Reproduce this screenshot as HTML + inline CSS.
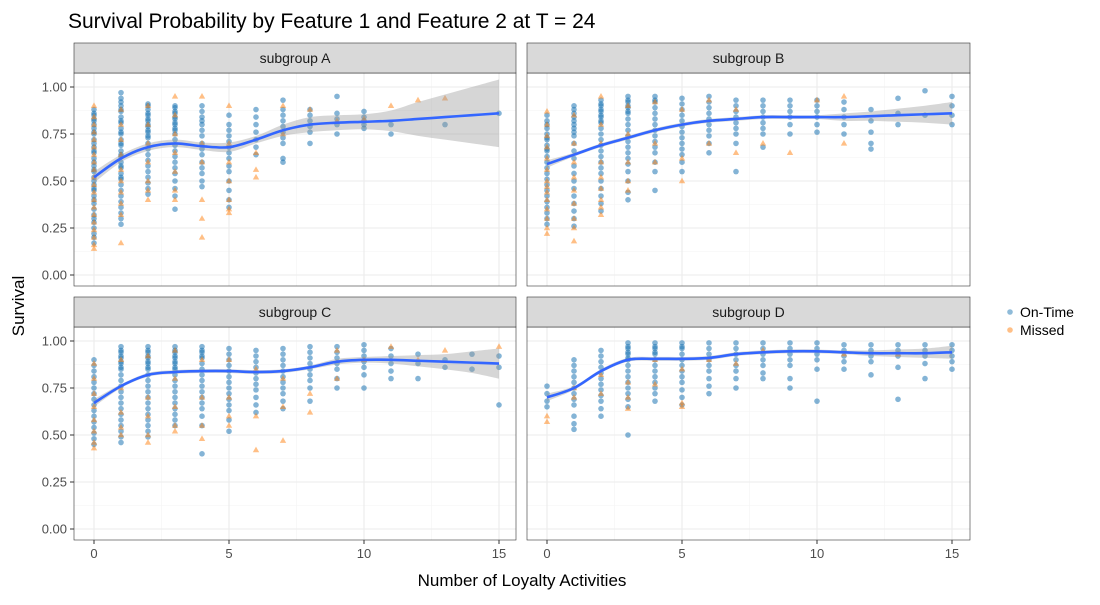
<!DOCTYPE html>
<html><head><meta charset="utf-8"><style>
body{margin:0;background:#fff}
svg{font-family:"Liberation Sans",Arial,sans-serif}
</style></head><body>
<svg id="c" width="1100" height="600" viewBox="0 0 1100 600" xmlns="http://www.w3.org/2000/svg"></svg>
<script>
const panelNames=["subgroup A","subgroup B","subgroup C","subgroup D"];
const xTicks=[0,5,10,15];
const yTicks=[0,0.25,0.5,0.75,1];
const yTickLabels=["0.00","0.25","0.50","0.75","1.00"];
const fitA=[.52,.62,.68,.70,.685,.68,.72,.77,.80,.81,.815,.82,.83,.84,.85,.86];
const loA=[.49,.60,.66,.68,.665,.655,.70,.74,.76,.77,.775,.765,.74,.72,.70,.68];
const hiA=[.55,.64,.70,.72,.705,.705,.74,.80,.84,.85,.855,.875,.92,.96,1.0,1.04];
const fitB=[.59,.64,.69,.73,.77,.80,.82,.83,.84,.84,.84,.84,.845,.85,.855,.86];
const loB=[.57,.63,.68,.72,.76,.79,.81,.82,.83,.83,.83,.82,.82,.815,.81,.80];
const hiB=[.61,.65,.70,.74,.78,.81,.83,.84,.85,.85,.85,.86,.87,.885,.90,.92];
const fitC=[.67,.76,.82,.835,.84,.84,.835,.84,.86,.89,.90,.90,.895,.89,.885,.88];
const loC=[.65,.75,.81,.825,.83,.83,.825,.83,.85,.875,.885,.88,.865,.85,.83,.80];
const hiC=[.69,.77,.83,.845,.85,.85,.845,.85,.87,.905,.915,.92,.925,.93,.945,.96];
const fitD=[.70,.75,.84,.90,.905,.905,.91,.93,.94,.945,.945,.94,.935,.935,.935,.94];
const loD=[.68,.74,.83,.89,.895,.895,.90,.92,.93,.935,.935,.93,.92,.915,.91,.905];
const hiD=[.72,.76,.85,.91,.915,.915,.92,.94,.95,.955,.955,.95,.95,.955,.96,.975];
const onA=[[.88,.86,.85,.83,.82,.8,.78,.76,.75,.72,.7,.68,.66,.65,.62,.6,.58,.56,.55,.52,.5,.48,.46,.45,.42,.4,.38,.35,.32,.3,.28,.25,.22,.2,.17],[.97,.94,.92,.9,.88,.87,.84,.82,.81,.78,.76,.75,.72,.7,.69,.66,.64,.63,.6,.58,.57,.54,.52,.51,.48,.45,.42,.39,.36,.33,.3,.27],[.91,.9,.88,.86,.85,.83,.82,.8,.79,.77,.76,.74,.73,.7,.67,.64,.61,.58,.55,.52,.49,.46,.43],[.9,.89,.87,.86,.84,.83,.81,.8,.78,.77,.75,.72,.69,.66,.63,.6,.57,.54,.5,.46,.42,.35],[.9,.87,.84,.82,.8,.77,.74,.7,.67,.64,.6,.57,.54,.5,.47],[.85,.8,.77,.74,.71,.68,.65,.62,.58,.55,.5,.45,.4,.36],[.88,.84,.8,.76,.72,.68,.64],[.93,.88,.85,.82,.79,.76,.73,.7,.62,.6],[.88,.85,.82,.79,.76,.7],[.95,.86,.83,.8,.75],[.87,.84,.82,.8,.78],[.8,.75],[],[.8],[],[.86]];
const missA=[[.9,.84,.8,.76,.72,.68,.64,.6,.56,.52,.48,.44,.4,.36,.32,.28,.24,.2,.16,.14],[.88,.8,.72,.64,.56,.5,.44,.38,.32,.17],[.9,.8,.7,.6,.5,.45,.4],[.95,.85,.75,.65,.55,.45,.4],[.95,.7,.6,.4,.3,.2],[.9,.7,.6,.5,.4,.35,.33],[.65,.56,.52],[.9,.75],[.88],[.82],[.83],[.9],[.93],[.94],[],[]];
const onB=[[.85,.82,.8,.78,.75,.73,.72,.69,.67,.66,.63,.6,.57,.54,.51,.48,.45,.42,.39,.36,.33,.3,.27],[.9,.88,.86,.84,.82,.8,.78,.76,.74,.7,.66,.62,.58,.54,.5,.46,.42,.38,.34,.3,.26],[.93,.91,.9,.88,.87,.85,.84,.82,.81,.78,.75,.72,.69,.66,.63,.6,.57,.54,.5,.46,.42,.38,.34],[.95,.93,.92,.9,.89,.87,.86,.83,.8,.77,.74,.71,.68,.65,.62,.59,.55,.5,.44,.4],[.95,.93,.92,.89,.86,.83,.8,.77,.74,.71,.68,.65,.6,.55,.45],[.94,.91,.88,.85,.82,.79,.76,.73,.7,.67,.64,.6,.55],[.95,.92,.89,.86,.83,.8,.77,.74,.7,.65],[.93,.9,.87,.84,.81,.78,.75,.7,.55],[.93,.9,.87,.84,.81,.78,.75,.68],[.93,.9,.87,.84,.8,.75],[.93,.9,.87,.84,.8,.76],[.92,.88,.84,.8,.75],[.88,.82,.76,.7,.67],[.94,.86,.8],[.98,.85],[.95,.9,.85,.8]];
const missB=[[.87,.8,.74,.68,.62,.56,.5,.47,.44,.4,.35,.3,.25,.22],[.85,.7,.6,.52,.45,.38,.3,.25,.18],[.95,.8,.7,.6,.52,.46,.4,.36,.32],[.9,.75,.6,.5,.45],[.92,.7,.6],[.88,.62,.5],[.93,.7],[.88,.65],[.7],[.65],[.93],[.95,.7],[],[],[],[]];
const onC=[[.9,.87,.84,.81,.78,.75,.72,.69,.66,.63,.6,.57,.54,.51,.48,.45],[.97,.95,.94,.92,.91,.89,.88,.86,.85,.82,.79,.76,.73,.7,.67,.64,.61,.58,.55,.52,.49,.46],[.97,.95,.94,.92,.91,.89,.88,.86,.85,.82,.79,.76,.73,.7,.67,.64,.61,.58,.55,.52,.49],[.97,.95,.94,.92,.91,.89,.88,.86,.85,.82,.79,.76,.73,.7,.67,.64,.61,.58,.55],[.97,.95,.94,.92,.91,.88,.85,.82,.79,.76,.73,.7,.67,.64,.6,.55,.4],[.96,.93,.9,.87,.84,.81,.78,.75,.72,.69,.66,.63,.58,.52],[.95,.92,.89,.86,.83,.8,.77,.74,.7,.66,.62],[.96,.93,.9,.87,.84,.81,.78,.75,.72,.68,.64],[.97,.94,.91,.88,.85,.82,.79,.75,.68],[.97,.94,.91,.88,.85,.8,.75],[.98,.95,.92,.89,.86,.82,.75],[.96,.92,.88,.84,.8],[.93,.88,.8],[.9,.86],[.93,.85],[.92,.86,.66]];
const missC=[[.88,.8,.72,.65,.58,.52,.46,.43],[.9,.75,.62,.54,.5],[.92,.7,.6,.5,.46],[.95,.8,.65,.55,.52],[.9,.7,.55,.48],[.9,.7,.6,.55],[.85,.6,.42],[.8,.65,.47],[.72,.62],[.95,.8],[.9],[.97],[.9],[.95],[],[.97]];
const onD=[[.76,.72,.68,.65],[.9,.87,.84,.81,.78,.75,.72,.69,.66,.6,.56,.53],[.95,.92,.89,.86,.83,.8,.77,.74,.71,.68,.64,.6],[.99,.97,.96,.94,.93,.91,.9,.87,.84,.81,.78,.75,.72,.69,.65,.5],[.99,.97,.96,.94,.93,.9,.87,.84,.81,.78,.75,.72,.68],[.99,.97,.96,.93,.9,.87,.84,.81,.78,.74,.7,.66],[.99,.96,.93,.9,.87,.84,.8,.76,.72],[.99,.96,.93,.9,.87,.84,.8,.75],[.99,.96,.93,.9,.87,.83,.8],[.99,.96,.93,.9,.87,.8,.75],[.99,.96,.93,.9,.85,.68],[.98,.95,.92,.89,.85],[.98,.95,.92,.89,.82],[.98,.95,.92,.86,.69],[.98,.95,.92,.88,.8],[.98,.95,.92,.89,.85]];
const missD=[[.6,.57],[.75,.7],[.82,.72],[.78,.7,.64],[.9,.77],[.85,.67,.65],[.9],[.88],[.95],[],[],[.93],[],[.93],[],[]];

const fits=[fitA,fitB,fitC,fitD],los=[loA,loB,loC,loD],his=[hiA,hiB,hiC,hiD];
const ons=[onA,onB,onC,onD],misses=[missA,missB,missC,missD];
const NS="http://www.w3.org/2000/svg";
const svg=document.getElementById('c');
function mk(tag,attrs,parent){const e=document.createElementNS(NS,tag);for(const k in attrs)e.setAttribute(k,attrs[k]);(parent||svg).appendChild(e);return e;}
const panels=[{x0:74,x1:516,y0:73,y1:286},{x0:527,x1:970,y0:73,y1:286},{x0:74,x1:516,y0:327,y1:540},{x0:527,x1:970,y0:327,y1:540}];
const tt=mk('text',{x:68,y:28,'font-size':21,fill:'#000'});tt.textContent="Survival Probability by Feature 1 and Feature 2 at T = 24";


function smooth(pts){let d="M"+pts[0][0]+","+pts[0][1];for(let i=0;i<pts.length-1;i++){const p0=pts[Math.max(0,i-1)],p1=pts[i],p2=pts[i+1],p3=pts[Math.min(pts.length-1,i+2)];
d+=" C"+(p1[0]+(p2[0]-p0[0])/6)+","+(p1[1]+(p2[1]-p0[1])/6)+" "+(p2[0]-(p3[0]-p1[0])/6)+","+(p2[1]-(p3[1]-p1[1])/6)+" "+p2[0]+","+p2[1];}return d;}
panels.forEach((p,i)=>{
  const g=mk('g',{});
  
  
  const ox=p.x0+20;
  const xs=v=>ox+v*27;
  const ys=v=>p.y1-11-v*188;
  mk('rect',{x:p.x0,y:p.y0,width:p.x1-p.x0,height:p.y1-p.y0,fill:'#fff'},g);
  [2.5,7.5,12.5].forEach(v=>mk('line',{x1:xs(v),x2:xs(v),y1:p.y0,y2:p.y1,stroke:'#f4f4f4','stroke-width':0.6},g));
  [0.125,0.375,0.625,0.875].forEach(v=>mk('line',{x1:p.x0,x2:p.x1,y1:ys(v),y2:ys(v),stroke:'#f4f4f4','stroke-width':0.6},g));
  xTicks.forEach(v=>mk('line',{x1:xs(v),x2:xs(v),y1:p.y0,y2:p.y1,stroke:'#ebebeb','stroke-width':1.1},g));
  yTicks.forEach(v=>mk('line',{x1:p.x0,x2:p.x1,y1:ys(v),y2:ys(v),stroke:'#ebebeb','stroke-width':1.1},g));
  ons[i].forEach((col,x)=>col.forEach(v=>{const c=mk('circle',{cx:xs(x),cy:ys(v),r:2.8,fill:'#1f77b4','fill-opacity':0.55},g);
    
    }));
  misses[i].forEach((col,x)=>col.forEach(v=>{const cx=xs(x),cy=ys(v);const t=mk('polygon',{points:`${cx},${cy-3.4} ${cx+3.2},${cy+2.2} ${cx-3.2},${cy+2.2}`,fill:'#ff7f0e','fill-opacity':0.5},g);
    
    }));
  const up=his[i].map((v,x)=>[xs(x),ys(v)]),lo=los[i].map((v,x)=>[xs(x),ys(v)]).reverse();
  const sl=smooth(lo);
  const rd=smooth(up)+" L"+lo[0][0]+","+lo[0][1]+sl.slice(sl.indexOf(' '))+"Z";
  const rb=mk('path',{d:rd,fill:'#999','fill-opacity':0.4},g);
  
  
  const ln=mk('path',{d:smooth(fits[i].map((v,x)=>[xs(x),ys(v)])),fill:'none',stroke:'#3366ff','stroke-width':2.6},g);
  
  
  mk('rect',{x:p.x0,y:p.y0,width:p.x1-p.x0,height:p.y1-p.y0,fill:'none',stroke:'#333','stroke-width':0.6},g);
  const s=mk('rect',{x:p.x0,y:p.y0-30,width:p.x1-p.x0,height:30,fill:'#d9d9d9',stroke:'#333','stroke-width':0.6},g);
  
  
  const st=mk('text',{x:(p.x0+p.x1)/2,y:p.y0-10,'text-anchor':'middle','font-size':14,fill:'#1a1a1a'},g);
  st.textContent=panelNames[i];
  
  
  if(i%2==0){yTicks.forEach((v,k)=>{mk('line',{x1:p.x0-4,x2:p.x0,y1:ys(v),y2:ys(v),stroke:'#333'},g);
    const t=mk('text',{x:p.x0-7,y:ys(v)+4.5,'text-anchor':'end','font-size':13,fill:'#4d4d4d'},g);t.textContent=yTickLabels[k];
    
    });}
  if(i>=2){xTicks.forEach(v=>{mk('line',{x1:xs(v),x2:xs(v),y1:p.y1,y2:p.y1+4,stroke:'#333'},g);
    const t=mk('text',{x:xs(v),y:p.y1+18,'text-anchor':'middle','font-size':13,fill:'#4d4d4d'},g);t.textContent=v;
    
    });}
});
const xl=mk('text',{x:522,y:586,'text-anchor':'middle','font-size':17,fill:'#000'});xl.textContent="Number of Loyalty Activities";


const yl=mk('text',{x:24,y:306,'text-anchor':'middle','font-size':17,fill:'#000',transform:'rotate(-90 24 306)'});yl.textContent="Survival";


[["On-Time","#1f77b4",312],["Missed","#ff7f0e",330]].forEach(([n,c,y])=>{
  const g=mk('g',{});
  
  
  mk('circle',{cx:1010,cy:y,r:2.8,fill:c,'fill-opacity':0.5},g);
  const t=mk('text',{x:1020,y:y+5,'font-size':14,fill:'#000'},g);t.textContent=n;
});
</script>
</body></html>
